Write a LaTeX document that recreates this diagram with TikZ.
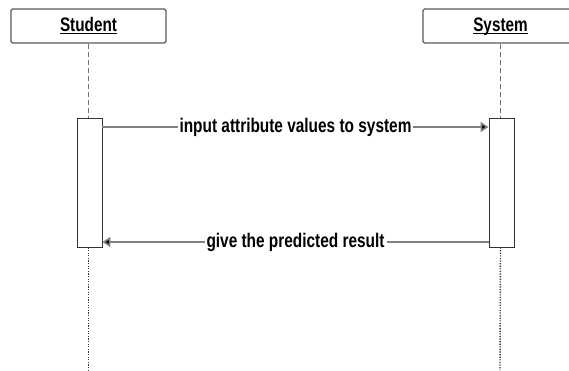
\documentclass[tikz,border=0pt]{standalone}
\usepackage{fontspec}
\setmainfont{Liberation Sans}
\usetikzlibrary{arrows.meta}
\newcommand{\tallt}[1]{\scalebox{1}[1.28]{#1}}
\begin{document}
\begin{tikzpicture}[x=1pt,y=1pt,
  actor/.style={draw=black!65,line width=1.3pt,rounded corners=1.5pt,minimum width=155pt,minimum height=34pt,inner sep=0pt,font=\bfseries\fontsize{15.3}{17}\selectfont},
  actbox/.style={draw=black!80,line width=0.9pt,fill=white,minimum width=25pt,minimum height=129pt,inner sep=0pt},
  msg/.style={draw=black!50,line width=1.6pt,-{Triangle[length=8pt,width=10pt,fill=black]}},
  lbl/.style={fill=white,inner sep=2pt,font=\bfseries\fontsize{15.4}{17}\selectfont},
  life/.style={draw=black!55,line width=1.1pt,dash pattern=on 5pt off 3pt},
  lifedot/.style={draw=black!80,line width=1.4pt,dash pattern=on 1.2pt off 1.4pt}]
\useasboundingbox (0,0) rectangle (569,370);
\node[actor] (stu) at (88.5,344) {\tallt{\underline{Student}}};
\node[actor] (sys) at (500.5,344) {\tallt{\underline{S\smash{y}stem}}};
\node[actbox] (a1) at (89.5,187.5) {};
\node[actbox] (a2) at (501.5,187.5) {};
\coordinate (e1) at (88.5,0);
\coordinate (e2) at (500,0);
\draw[life] (stu.south) -- (stu.south |- a1.north);
\draw[life] (sys.south) -- (sys.south |- a2.north);
\draw[lifedot] (stu.south |- a1.south) -- (e1);
\draw[lifedot] (sys.south |- a2.south) -- (e2);
\draw[msg] (a1.east |- 0,243) -- node[lbl] {\tallt{input attribute values to system}} (a2.west |- 0,243);
\draw[msg] (a2.west |- 0,128) -- node[lbl] {\tallt{give the predicted result}} (a1.east |- 0,128);
\end{tikzpicture}
\end{document}
